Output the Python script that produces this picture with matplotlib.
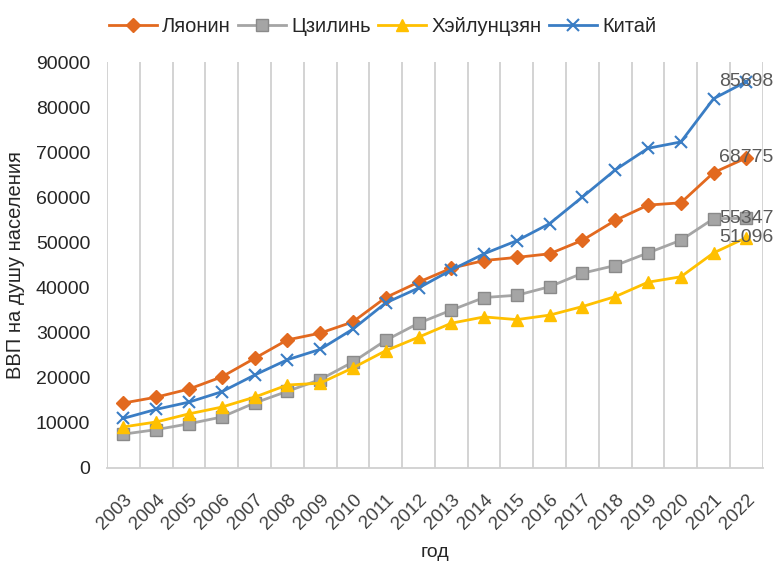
import matplotlib.pyplot as plt
import numpy as np

plt.rcParams['font.family'] = ['Liberation Sans', 'DejaVu Sans']

# ....... Data ........

years = [str(y) for y in range(2003, 2023)]

liaoning = [14400, 15700, 17500, 20200, 24300, 28400, 29900, 32400, 37800, 41200,
            44300, 46000, 46700, 47500, 50500, 54900, 58300, 58800, 65500, 68775]
jilin = [7500, 8500, 9800, 11300, 14400, 17000, 19600, 23500, 28300, 32100,
         35000, 37800, 38300, 40200, 43200, 44900, 47700, 50500, 55300, 55347]
heilongjiang = [9100, 10200, 12000, 13500, 15700, 18400, 18800, 22200, 26000, 29000,
                32100, 33500, 32900, 33900, 35800, 38000, 41200, 42400, 47700, 51096]
china = [11000, 13000, 14600, 16900, 20600, 24000, 26300, 30800, 36600, 39900,
         43900, 47500, 50400, 54200, 60100, 66100, 70900, 72300, 81900, 85698]

series_names = ['Ляонин', 'Цзилинь', 'Хэйлунцзян', 'Китай']
y_ticks = [0, 10000, 20000, 30000, 40000, 50000, 60000, 70000, 80000, 90000]

# ....... Styles ........

styles = [
    dict(color='#E2691F', marker='D', markersize=7, mec='#E2691F'),
    dict(color='#A5A5A5', marker='s', markersize=8, mec='#8a8a8a'),
    dict(color='#FFC000', marker='^', markersize=9, mec='#FFC000'),
    dict(color='#3A7DC4', marker='x', markersize=9, mew=1.5, mec='#3A7DC4'),
]

fig = plt.figure(figsize=(7.78, 5.70), dpi=100)
ax = fig.add_axes([0.1375, 0.179, 0.843, 0.712])

x = np.arange(len(years))
all_series = [liaoning, jilin, heilongjiang, china]

for name, values, st in zip(series_names, all_series, styles):
    ax.plot(x, values, label=name, linewidth=2.0, zorder=3, **st)
    # value label at the last point
    ax.text(x[-1], values[-1], f'{values[-1]}', ha='center', va='center',
            fontsize=14, color='#595959', zorder=4)

# --- Axis limits and grid
ax.set_xlim(-0.5, len(years) - 0.5)
ax.set_ylim(0, 90000)
ax.set_yticks(y_ticks)
ax.set_yticklabels([str(v) for v in y_ticks], fontsize=14, color='#262626')

ax.set_xticks(x)
ax.set_xticklabels(years, rotation=45, ha='right', rotation_mode='anchor',
                   fontsize=13.5, color='#404040')
ax.tick_params(axis='x', length=0, pad=17)
ax.tick_params(axis='y', length=0, pad=12)

# vertical grid lines at category boundaries
for b in np.arange(-0.5, len(years) + 0.5, 1):
    ax.axvline(b, color='#D0D0D0', linewidth=1.3, zorder=1)

for side in ['top', 'right', 'left']:
    ax.spines[side].set_visible(False)
ax.spines['bottom'].set_color('#D0D0D0')
ax.spines['bottom'].set_linewidth(1.3)

# --- Labels
ax.set_ylabel('ВВП на душу населения', fontsize=14.5, color='#262626', labelpad=8)
ax.set_xlabel('год', fontsize=14, color='#262626', labelpad=8)

# --- Legend
leg = ax.legend(loc='lower center', bbox_to_anchor=(0.42, 1.045), ncol=4,
                frameon=False, fontsize=14.5, handlelength=2.4, handletextpad=0.25,
                columnspacing=0.35, borderaxespad=0)
for t in leg.get_texts():
    t.set_color('#262626')

fig.savefig('out.png', dpi=100)
